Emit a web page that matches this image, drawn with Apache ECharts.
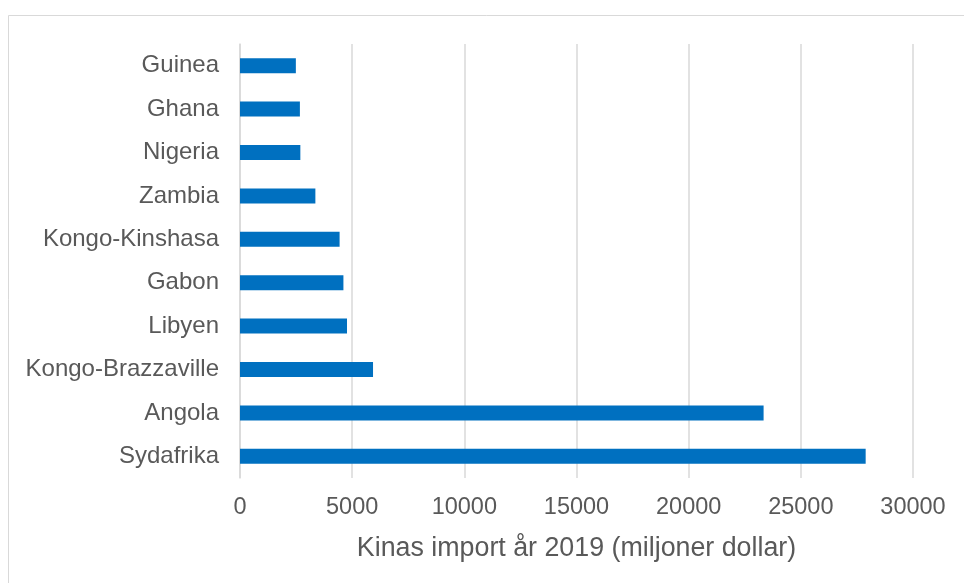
<!DOCTYPE html>
<html>
<head>
<meta charset="utf-8">
<script src="https://cdn.jsdelivr.net/npm/echarts@6/dist/echarts.min.js"></script>
<style>
  html, body { margin: 0; padding: 0; background: #ffffff; }
  #chart { width: 964px; height: 583px; }
</style>
</head>
<body>
<div id="chart"></div>
<script>
// Kinas import från afrikanska länder år 2019 (miljoner dollar)
const countries = ['Guinea', 'Ghana', 'Nigeria', 'Zambia', 'Kongo-Kinshasa', 'Gabon', 'Libyen', 'Kongo-Brazzaville', 'Angola', 'Sydafrika'];
const imports = [2490, 2670, 2690, 3360, 4440, 4610, 4770, 5930, 23340, 27890];
const axisTitle = 'Kinas import år 2019 (miljoner dollar)';

const textColor = '#595959';
const gridColor = '#d9d9d9';
const fontFamily = '"Liberation Sans", Arial, sans-serif';

const chart = echarts.init(document.getElementById('chart'), null, { renderer: 'canvas' });
chart.setOption({
  animation: false,
  backgroundColor: '#ffffff',
  textStyle: { fontFamily: fontFamily },
  graphic: [{
    type: 'rect',
    shape: { x: 8.5, y: 15.5, width: 1000, height: 1000 },
    style: { fill: 'none', stroke: gridColor, lineWidth: 1 },
    silent: true
  }],
  grid: { left: 240, right: 51, top: 44, height: 434, containLabel: false },
  xAxis: {
    type: 'value',
    min: 0,
    max: 30000,
    interval: 5000,
    name: axisTitle,
    nameLocation: 'middle',
    nameGap: 57,
    nameTextStyle: { color: textColor, fontSize: 26.8, fontFamily: fontFamily },
    axisLine: { show: false },
    axisTick: { show: false },
    axisLabel: {
      color: textColor, fontSize: 23.5, margin: 18, fontFamily: fontFamily,
      formatter: function (v) { return String(v); }
    },
    splitLine: { show: true, lineStyle: { color: gridColor, width: 1.5 } }
  },
  yAxis: {
    type: 'category',
    inverse: true,
    data: countries,
    axisLine: { show: true, lineStyle: { color: gridColor, width: 1.5 } },
    axisTick: { show: false },
    axisLabel: { color: textColor, fontSize: 24, margin: 21, fontFamily: fontFamily, padding: [3, 0, 0, 0] }
  },
  series: [{
    type: 'bar',
    data: imports,
    barWidth: 15,
    itemStyle: { color: '#0070C0' }
  }]
});
</script>
</body>
</html>
